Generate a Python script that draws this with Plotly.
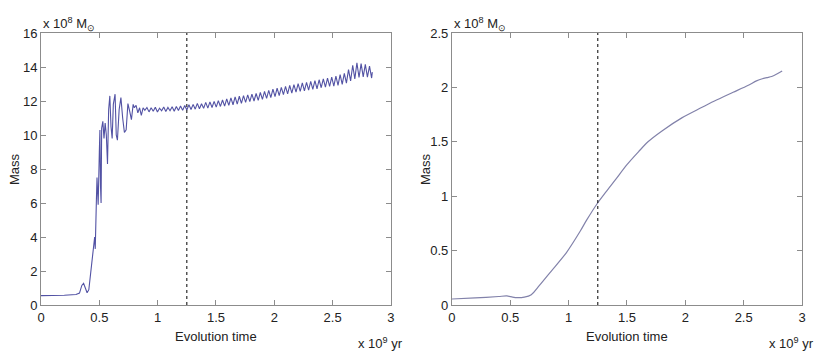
import plotly.graph_objects as go

# ---------------- data ----------------
left_time = [0.00, 0.10, 0.20, 0.30, 0.33, 0.35, 0.365, 0.38, 0.395, 0.41, 0.43, 0.45, 0.46, 0.465,
             0.47, 0.475, 0.48, 0.49, 0.50, 0.505, 0.51, 0.515, 0.52, 0.53, 0.54, 0.55, 0.56, 0.57,
             0.58, 0.59, 0.60, 0.61, 0.62, 0.635, 0.645, 0.655, 0.67, 0.685, 0.70, 0.715, 0.73,
             0.745, 0.76, 0.775, 0.79, 0.80, 0.815, 0.83, 0.845, 0.86, 0.875,
             0.890, 0.908, 0.926, 0.944, 0.962, 0.980, 0.998, 1.016, 1.034, 1.052,
             1.070, 1.088, 1.106, 1.124, 1.142, 1.160, 1.178, 1.196, 1.214, 1.232,
             1.250, 1.268, 1.286, 1.304, 1.322, 1.340, 1.358, 1.376, 1.394, 1.412,
             1.430, 1.448, 1.466, 1.484, 1.502, 1.520, 1.538, 1.556, 1.574, 1.592,
             1.610, 1.628, 1.646, 1.664, 1.682, 1.700, 1.718, 1.736, 1.754, 1.772,
             1.790, 1.808, 1.826, 1.844, 1.862, 1.880, 1.898, 1.916, 1.934, 1.952,
             1.970, 1.988, 2.006, 2.024, 2.042, 2.060, 2.078, 2.096, 2.114, 2.132,
             2.150, 2.168, 2.186, 2.204, 2.222, 2.240, 2.258, 2.276, 2.294, 2.312,
             2.330, 2.348, 2.366, 2.384, 2.402, 2.420, 2.438, 2.456, 2.474, 2.492,
             2.510, 2.528, 2.546, 2.564, 2.582, 2.600, 2.618, 2.636, 2.654, 2.672,
             2.690, 2.708, 2.726, 2.744, 2.762, 2.780, 2.798, 2.816, 2.834, 2.840]
left_mass = [0.55, 0.55, 0.57, 0.62, 0.70, 1.15, 1.27, 1.00, 0.72, 0.90, 2.00, 3.40, 4.00, 3.30,
             5.80, 6.20, 7.50, 5.90, 9.00, 10.30, 7.00, 6.00, 10.40, 10.80, 9.80, 10.70, 10.00, 8.30,
             11.50, 12.30, 10.50, 9.80, 11.80, 12.40, 10.00, 9.70, 11.50, 12.20, 11.00, 10.15, 10.30,
             11.85, 11.40, 10.90, 11.80, 11.60, 11.75, 11.30, 11.60, 11.15, 11.60,
             11.45, 11.62, 11.36, 11.60, 11.40, 11.63, 11.35, 11.58, 11.42, 11.65,
             11.38, 11.62, 11.43, 11.66, 11.40, 11.68, 11.44, 11.70, 11.45, 11.74,
             11.47, 11.78, 11.50, 11.80, 11.52, 11.86, 11.54, 11.84, 11.57, 11.92,
             11.58, 11.95, 11.62, 11.98, 11.64, 12.02, 11.68, 12.06, 11.70, 12.12,
             11.74, 12.18, 11.78, 12.24, 11.82, 12.28, 11.86, 12.32, 11.92, 12.36,
             11.96, 12.40, 12.00, 12.44, 12.04, 12.50, 12.10, 12.56, 12.15, 12.62,
             12.20, 12.70, 12.26, 12.76, 12.32, 12.80, 12.38, 12.86, 12.42, 12.92,
             12.46, 12.96, 12.52, 13.02, 12.56, 13.06, 12.60, 13.10, 12.64, 13.15,
             12.68, 13.20, 12.72, 13.25, 12.78, 13.30, 12.82, 13.34, 12.86, 13.40,
             12.88, 13.46, 12.92, 13.55, 12.98, 13.62, 13.05, 13.85, 13.18, 14.10,
             13.30, 14.25, 13.38, 14.20, 13.42, 14.15, 13.40, 14.05, 13.35, 13.70]
assert len(left_time) == len(left_mass)

right_time = [0.00, 0.20, 0.40, 0.47, 0.52, 0.56, 0.62, 0.68, 0.75, 0.85, 0.98, 1.10, 1.154, 1.25,
              1.32, 1.40, 1.50, 1.60, 1.68, 1.80, 1.97, 2.13, 2.25, 2.41, 2.54, 2.61, 2.66, 2.70,
              2.74, 2.78, 2.83]
right_mass = [0.055, 0.065, 0.078, 0.083, 0.072, 0.067, 0.072, 0.095, 0.18, 0.31, 0.48, 0.68, 0.78,
              0.94, 1.04, 1.15, 1.29, 1.41, 1.50, 1.60, 1.72, 1.81, 1.875, 1.955, 2.02, 2.06, 2.08,
              2.09, 2.10, 2.12, 2.15]
assert len(right_time) == len(right_mass)

marker_time = 1.25
x_ticks = [0, 0.5, 1, 1.5, 2, 2.5, 3]
x_ticklabels = ["0", "0.5", "1", "1.5", "2", "2.5", "3"]
left_yticks = [0, 2, 4, 6, 8, 10, 12, 14, 16]
right_yticks = [0, 0.5, 1, 1.5, 2, 2.5]
right_yticklabels = ["0", "0.5", "1", "1.5", "2", "2.5"]

FONT = "Liberation Sans, Arial, sans-serif"

fig = go.Figure()
fig.add_trace(go.Scatter(x=left_time, y=left_mass, mode="lines",
                         line=dict(color="#5252a4", width=1.1), xaxis="x", yaxis="y",
                         showlegend=False, hoverinfo="skip"))
fig.add_trace(go.Scatter(x=right_time, y=right_mass, mode="lines",
                         line=dict(color="#8282aa", width=1.2, shape="spline", smoothing=0.8),
                         xaxis="x2", yaxis="y2", showlegend=False, hoverinfo="skip"))

axis_common = dict(showgrid=False, zeroline=False, showline=True, linecolor="#8c8c8c",
                   linewidth=1, mirror="ticks", ticks="inside", ticklen=5, tickcolor="#8c8c8c",
                   automargin=False,
                   tickfont=dict(family=FONT, size=13, color="#222"))

fig.update_layout(
    width=830, height=357,
    margin=dict(l=41, r=28, t=33, b=52),
    paper_bgcolor="white", plot_bgcolor="white",
    xaxis=dict(domain=[0, 0.4599], range=[0, 3], tickvals=x_ticks, ticktext=x_ticklabels,
               anchor="y", **axis_common),
    yaxis=dict(domain=[0, 1], range=[0, 16], tickvals=left_yticks, anchor="x", **axis_common),
    xaxis2=dict(domain=[0.540, 1.0], range=[0, 3], tickvals=x_ticks, ticktext=x_ticklabels,
                anchor="y2", **axis_common),
    yaxis2=dict(domain=[0, 1], range=[0, 2.5], tickvals=right_yticks, ticktext=right_yticklabels,
                anchor="x2", **axis_common),
)

for xr, yr in (("x", "y"), ("x2", "y2")):
    fig.add_shape(type="line", xref=xr, yref=yr + " domain", x0=marker_time, x1=marker_time,
                  y0=0, y1=1, line=dict(color="black", width=1, dash="3px,3px"))
    xd = xr + " domain"
    yd = yr + " domain"
    fig.add_annotation(xref=xd, yref=yd, x=0.0, y=0.993, xanchor="left", yanchor="bottom",
                       text="x 10<sup>8</sup> M<sub>⊙</sub>", showarrow=False,
                       font=dict(family=FONT, size=13, color="#222"))
    fig.add_annotation(xref=xd, yref=yd, x=1.04, y=-0.14, xanchor="right", yanchor="middle",
                       text="x 10<sup>9</sup> yr", showarrow=False,
                       font=dict(family=FONT, size=13, color="#222"))
    fig.add_annotation(xref=xd, yref=yd, x=0.5, y=-0.115, xanchor="center", yanchor="middle",
                       text="Evolution time", showarrow=False,
                       font=dict(family=FONT, size=13, color="#222"))
    fig.add_annotation(xref=xd, yref=yd, x=-0.077, y=0.5, xanchor="center", yanchor="middle",
                       text="Mass", textangle=-90, showarrow=False,
                       font=dict(family=FONT, size=13, color="#222"))

fig.write_html("out.html", config={"displayModeBar": False},
               post_script="document.body.style.margin='0';document.body.style.overflow='hidden';")
